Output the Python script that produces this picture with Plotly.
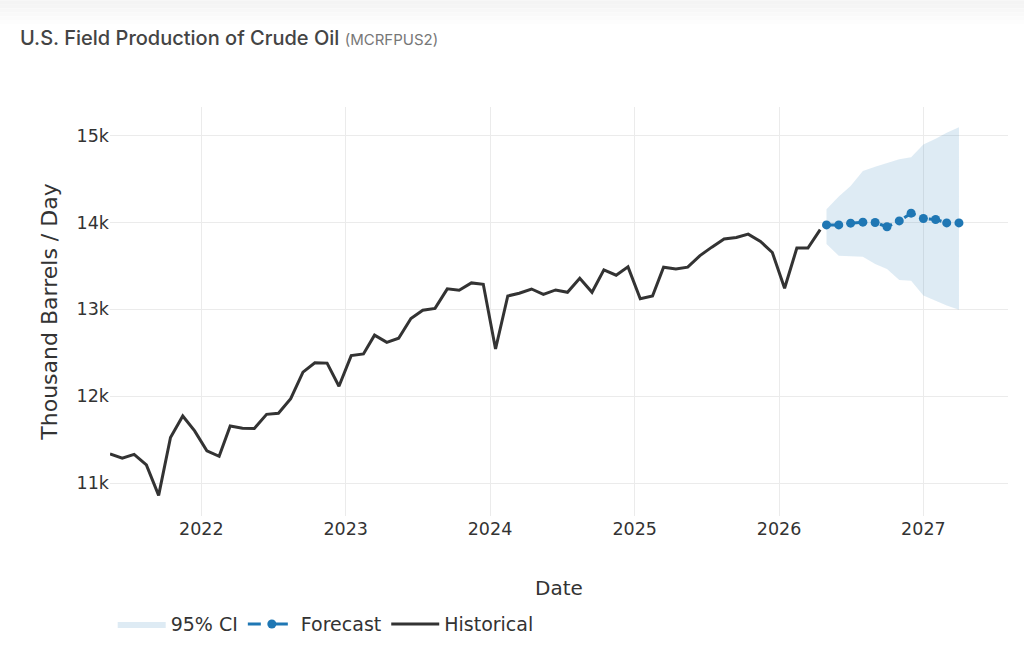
import pandas as pd
import plotly.graph_objects as go

# Historical monthly values (thousand barrels/day), May 2021 - Apr 2026
hist_dates = pd.date_range("2021-05-01", "2026-04-01", freq="MS") + pd.Timedelta(days=14)
hist_values = [
    11335, 11286, 11331, 11209, 10858, 11525, 11772, 11601,
    11372, 11308, 11658, 11632, 11628, 11791, 11803, 11971, 12277, 12385, 12381, 12115,
    12467, 12486, 12703, 12620, 12667, 12894, 12989, 13011, 13236, 13220, 13304, 13288,
    12543, 13154, 13185, 13234, 13173, 13223, 13196, 13358, 13196, 13454, 13393, 13489,
    13122, 13154, 13485, 13465, 13485, 13619, 13716, 13809, 13827, 13866, 13781, 13654,
    13243, 13705, 13705, 13917,
]

# Forecast, May 2026 - Apr 2027
fc_dates = pd.date_range("2026-05-01", "2027-04-01", freq="MS")
fc_values = [13972, 13972, 13992, 14003, 14000, 13950, 14018, 14107, 14046, 14034, 13995, 13995]
fc_upper = [14153, 14298, 14420, 14592, 14642, 14680, 14727, 14752, 14898, 14963, 15032, 15097]
fc_lower = [13751, 13617, 13613, 13605, 13522, 13464, 13338, 13330, 13158, 13101, 13043, 12994]

x_range = ["2021-05-15", "2027-08-03"]
y_range = [10621, 15329]

fig = go.Figure()

fig.add_trace(go.Scatter(
    x=list(fc_dates) + list(fc_dates[::-1]),
    y=fc_upper + fc_lower[::-1],
    fill="toself",
    fillcolor="rgba(31,119,180,0.15)",
    line=dict(width=0, color="rgba(0,0,0,0)"),
    mode="lines",
    name="95% CI",
    hoverinfo="skip",
))

fig.add_trace(go.Scatter(
    x=fc_dates, y=fc_values,
    mode="lines+markers",
    name="Forecast",
    line=dict(color="#1f77b4", width=3, dash="13px,14px"),
    marker=dict(color="#1f77b4", size=9),
))

fig.add_trace(go.Scatter(
    x=hist_dates, y=hist_values,
    mode="lines",
    name="Historical",
    line=dict(color="#333333", width=3),
))

# light header band (fades from grey to white)
band_colors = ["#f4f4f4", "#f5f5f5", "#f7f7f7", "#f9f9f9", "#fbfbfb", "#fdfdfd"]
shapes = []
for i, c in enumerate(band_colors):
    shapes.append(dict(
        type="rect", xref="paper", yref="paper",
        x0=-0.2, x1=1.1,
        y0=1 + (107 - 4 * (i + 1)) / 410, y1=1 + (107 - 4 * i) / 410,
        fillcolor=c, line=dict(width=0), layer="above",
    ))

fig.update_layout(
    width=1024, height=654,
    margin=dict(l=110, r=16, t=107, b=137),
    paper_bgcolor="white",
    plot_bgcolor="white",
    font=dict(family="DejaVu Sans", color="#333333", size=17),
    title=dict(
        text="U.S. Field Production of Crude Oil <span style='font-size:15px;color:#777777;font-weight:400'>(MCRFPUS2)</span>",
        x=0.0195, xanchor="left", y=0.942, yanchor="middle",
        font=dict(family="Inter", size=20, color="#444444", weight=500),
    ),
    xaxis=dict(
        range=x_range, type="date",
        showgrid=True, gridcolor="#ebebeb", gridwidth=1,
        zeroline=False, showline=False,
        dtick="M12", tickformat="%Y",
        tickfont=dict(size=17.5, color="#333333"),
        ticks="", ticklen=0,
        title=dict(text="Date", font=dict(size=20, color="#333333"), standoff=43),
    ),
    yaxis=dict(
        range=y_range,
        showgrid=True, gridcolor="#ebebeb", gridwidth=1,
        zeroline=False, showline=False,
        tickvals=[11000, 12000, 13000, 14000, 15000],
        ticktext=["11k", "12k", "13k", "14k", "15k"],
        tickfont=dict(size=17.5, color="#333333"),
        ticks="", ticklen=0,
        title=dict(text="Thousand Barrels / Day", font=dict(size=22, color="#333333"), standoff=12),
    ),
    legend=dict(
        orientation="h", x=0.003, xanchor="left", y=-0.215, yanchor="top",
        font=dict(size=19, color="#333333"),
        itemwidth=48,
        bgcolor="rgba(0,0,0,0)",
    ),
    shapes=shapes,
    showlegend=True,
)

fig.write_html("out.html", config={"displayModeBar": False},
               post_script="document.body.style.margin='0px';")
